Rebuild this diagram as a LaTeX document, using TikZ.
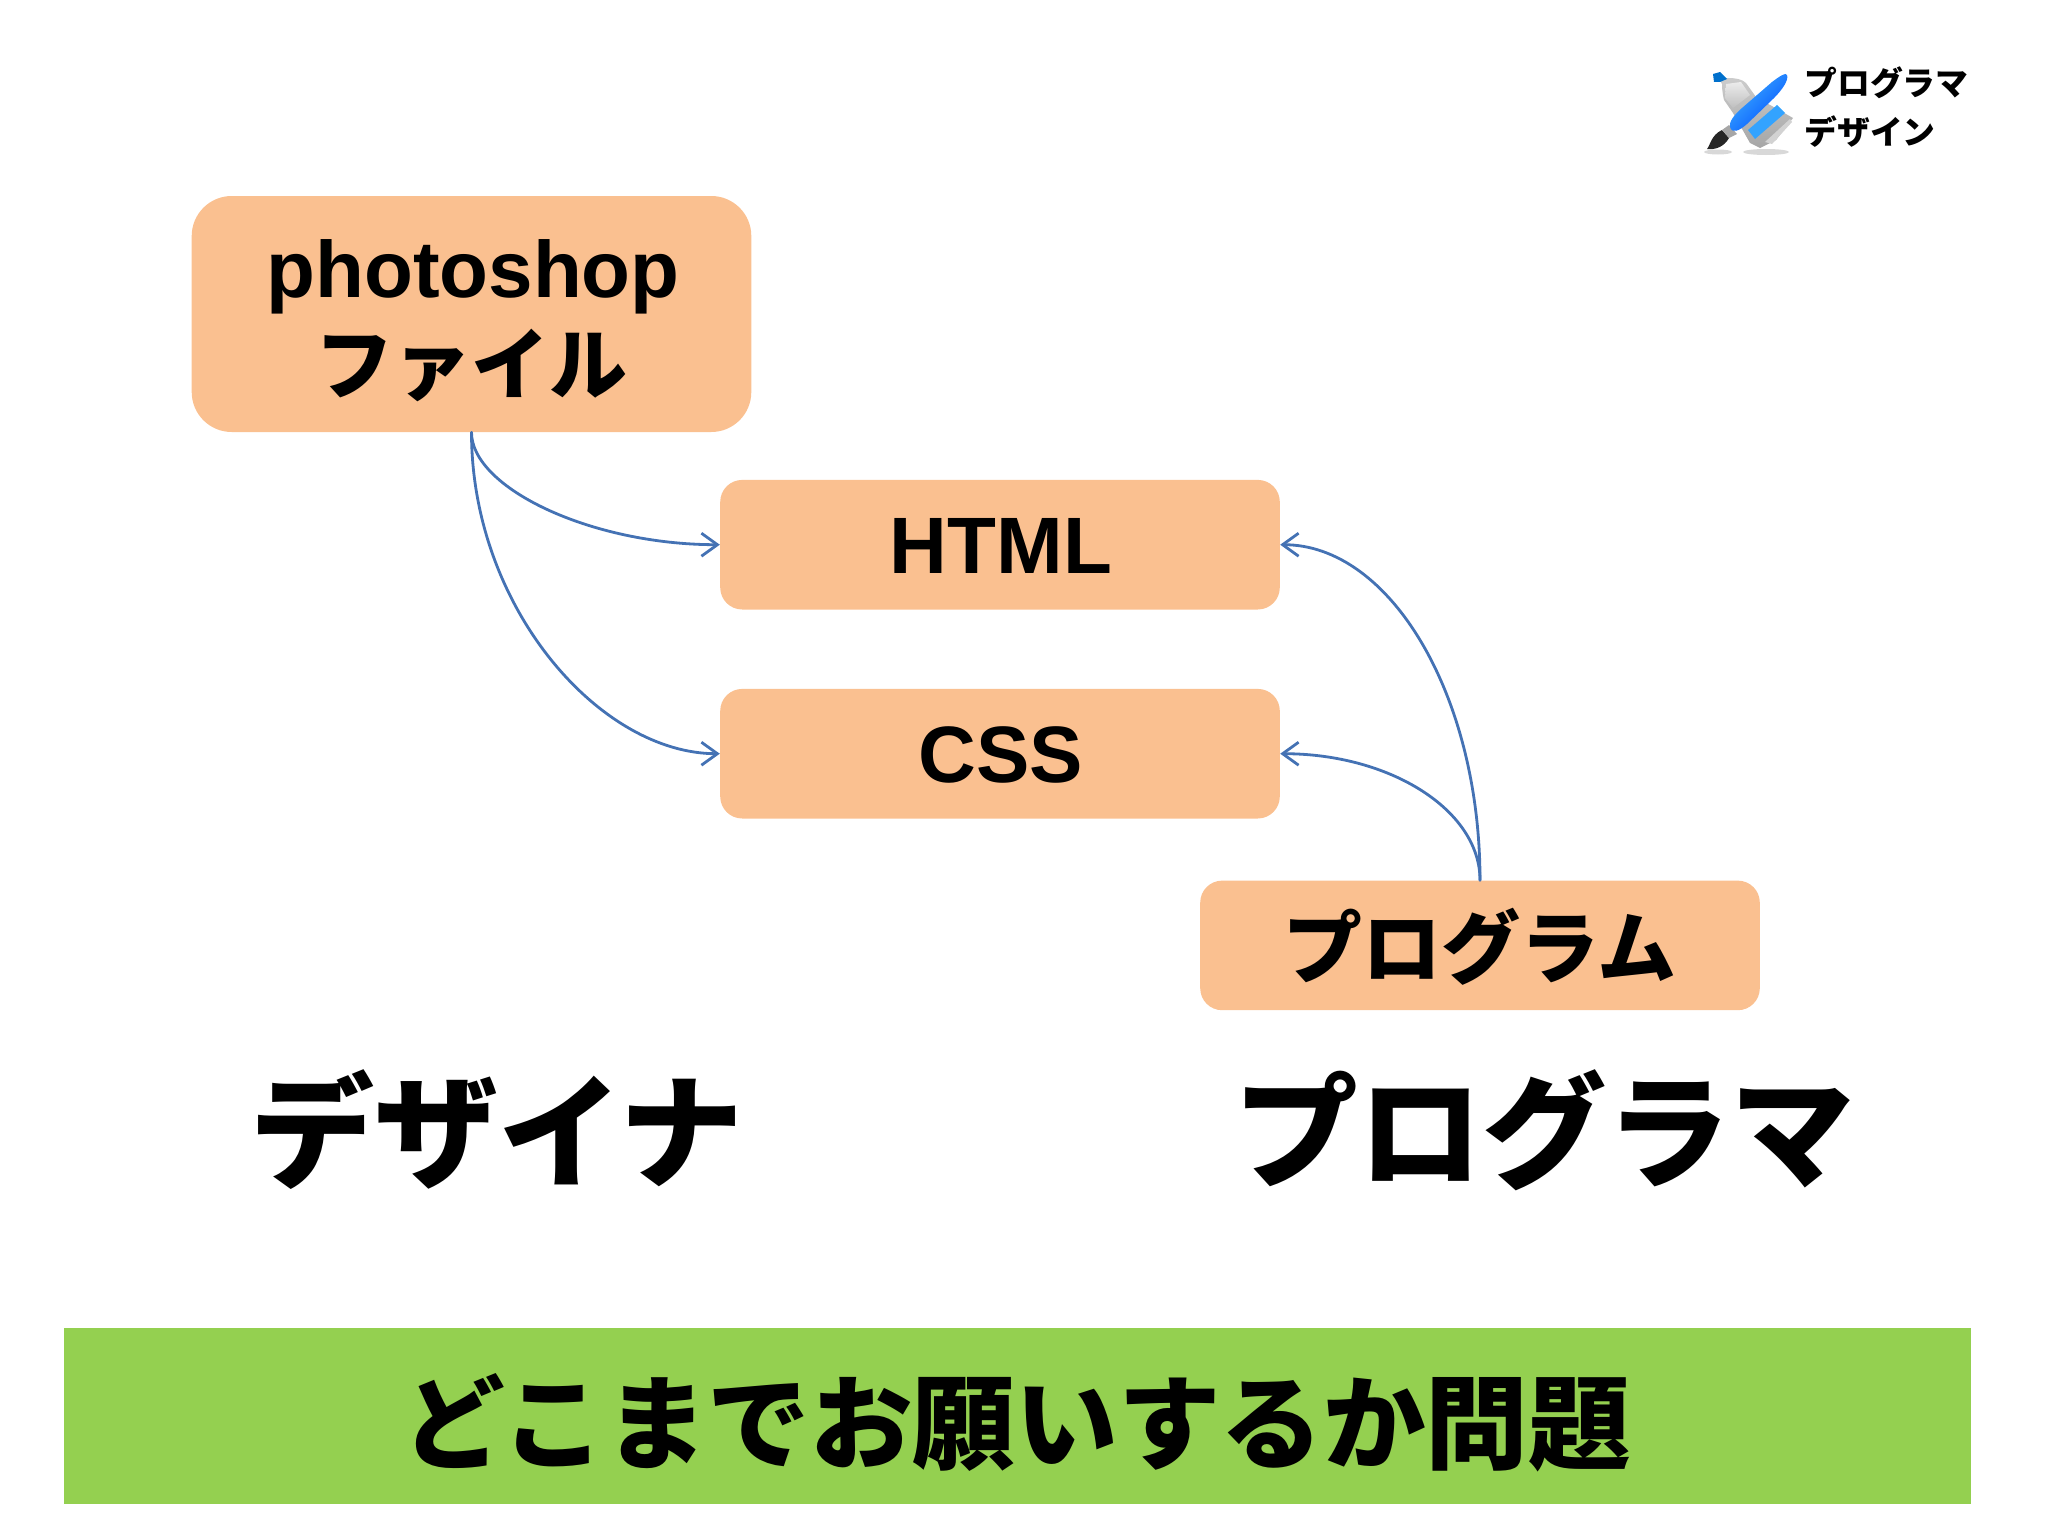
\documentclass[tikz,border=0pt]{standalone}
\usepackage{fontspec}
\setmainfont{Liberation Sans}
\newfontfamily\jpfont{Noto Sans CJK JP Black}
\usetikzlibrary{arrows.meta}
\definecolor{boxfill}{HTML}{FAC090}
\definecolor{barfill}{HTML}{94D050}
\definecolor{linkblue}{HTML}{4472B4}
\tikzset{
  card/.style={fill=boxfill,draw=none,minimum width=279.8pt,inner sep=0pt,align=center,text=black},
  small card/.style={card,rounded corners=11pt,minimum height=64.8pt},
  text only/.style={inner sep=0pt,text=black},
  big label/.style={text only,font=\jpfont\fontsize{62pt}{66pt}\selectfont},
  icon label/.style={text only,anchor=west,font=\jpfont\fontsize{16.4pt}{18pt}\selectfont},
  link/.style={draw=linkblue,line width=1.4pt,line cap=round,-{Straight Barb[length=8pt,width=11.5pt,line width=1.4pt]}},
}
\begin{document}
\begin{tikzpicture}[x=0.5pt,y=-0.5pt]
\useasboundingbox (0,0) rectangle (2048,1536);
\node[card,rounded corners=20pt,minimum height=118pt] (ps) at (471.5,314) {};
\node[text only,font=\bfseries\fontsize{40pt}{46pt}\selectfont] (pstext) at (473,277) {photoshop};
\node[text only,font=\jpfont\fontsize{39pt}{46pt}\selectfont] (pstextb) at (471,365) {ファイル};
\node[small card] (html) at (1000,544.7) {};
\node[text only,font=\bfseries\fontsize{40pt}{46pt}\selectfont] (htmltext) at (1001,546) {HTML};
\node[small card] (css) at (1000,753.7) {};
\node[text only,font=\bfseries\fontsize{40pt}{46pt}\selectfont] (csstext) at (1001,755) {CSS};
\node[small card] (prog) at (1480,945.4) {};
\node[text only,font=\jpfont\fontsize{39.5pt}{46pt}\selectfont] (progtext) at (1480,947) {プログラム};
\node[big label] (designer) at (497,1130) {デザイナ};
\node[big label] (programmer) at (1544,1130) {プログラマ};
\node[fill=barfill,minimum width=953.5pt,minimum height=88pt,inner sep=0pt] (bar) at (1017,1415.5) {};
\node[text only,font=\jpfont\fontsize{51.3pt}{56pt}\selectfont] (bartext) at (1017,1423) {どこまでお願いするか問題};
\draw[link] (ps.south) .. controls +(0,55) and +(-130,0) .. (html.west);
\draw[link] (ps.south) .. controls +(0,175) and +(-120,0) .. (css.west);
\draw[link] (prog.north) .. controls +(0,-185) and +(110,0) .. (html.east);
\draw[link] (prog.north) .. controls +(0,-70) and +(110,0) .. (css.east);
% icon: crossed brush and paint tube
\fill[black!30,opacity=.5] (1718,152) ellipse (14 and 2.5);
\fill[black!30,opacity=.5] (1766,152) ellipse (23 and 3);
\shade[top color=gray!40,bottom color=gray!70]
  (1719,79) -- (1728,78) .. controls (1735,78) and (1742,79) .. (1746,83) -- (1756,97) -- (1793,118)
  -- (1776,140) -- (1760,148) -- (1750,143) -- (1733,113) -- (1724,100) .. controls (1722,92) and (1722,86) .. (1722,84) -- cycle;
\shade[top color=gray!15,bottom color=gray!50] (1726,84) -- (1741,82) -- (1750,95) -- (1733,108) -- (1725,98) -- cycle;
\fill[gray!35] (1765,142) -- (1790,119) -- (1792,122) -- (1772,144) -- cycle;
\fill[blue!45!cyan!80!black] (1713,74) -- (1720,72) -- (1727,79) -- (1720,82) -- (1714,82) -- cycle;
\fill[blue!45!cyan!80] (1748,130) -- (1777,105) -- (1785,113) -- (1755,139) -- cycle;
\fill[black!85] (1707,149) .. controls (1710,146) and (1711,135) .. (1722,130) -- (1729,138) .. controls (1724,147) and (1715,150) .. (1707,149) -- cycle;
\fill[gray!70] (1722,130) -- (1729,125) -- (1737,134) -- (1729,138) -- cycle;
\shade[left color=cyan!60!blue!75,right color=blue!70!cyan,shading angle=45]
  (1730,127) .. controls (1729,122) and (1733,116) .. (1742,108) -- (1772,82)
  .. controls (1780,76) and (1786,72) .. (1787,75) .. controls (1789,80) and (1782,90) .. (1774,98)
  -- (1747,124) .. controls (1739,131) and (1732,134) .. (1730,127) -- cycle;
\node[icon label] (icona) at (1804,83) {プログラマ};
\node[icon label] (iconb) at (1804,132) {デザイン};
\end{tikzpicture}
\end{document}
